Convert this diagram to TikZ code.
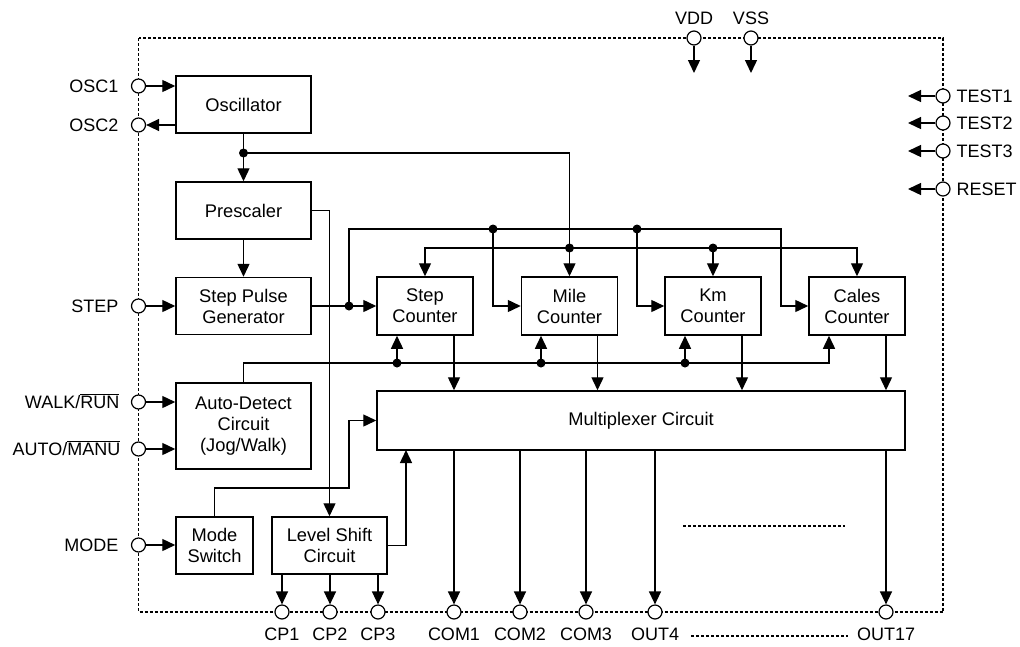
\documentclass[tikz,border=0pt]{standalone}
\usepackage{fontspec}
\setmainfont{Liberation Sans}
\usetikzlibrary{arrows.meta,calc}
\begin{document}
\begin{tikzpicture}[x=1pt,y=-1pt,
  line width=1.4pt,
  box/.style={draw, line width=1.5pt, inner sep=0pt, align=center,
    font=\fontsize{18.3}{21}\selectfont},
  pin/.style={circle, draw, fill=white, minimum size=14pt, inner sep=0pt, line width=1.2pt},
  arr/.style={-{Triangle[length=13pt,width=12pt]}},
  dot/.style={circle, fill=black, minimum size=9pt, inner sep=0pt},
  lbl/.style={inner sep=0pt, text height=12.9pt, text depth=0pt,
    font=\fontsize{18}{21}\selectfont},
  border/.style={line width=1.1pt, dash pattern=on 3pt off 2pt},
  dots/.style={line width=1.1pt, dash pattern=on 3pt off 2pt}
]
\useasboundingbox (0,0) rectangle (1020,646);

% chip outline
\coordinate (btl) at (138.5,38);
\coordinate (bbr) at (943,612);
\draw[border] (btl) rectangle (bbr);

% blocks
\node[box, minimum width=135pt, minimum height=57pt] (osc) at (243.5,104.5) {Oscillator};
\node[box, minimum width=135pt, minimum height=57pt] (pre) at (243.5,210.5) {Prescaler};
\node[box, minimum width=135pt, minimum height=57pt] (spg) at (243.5,306) {Step Pulse\\Generator};
\node[box, minimum width=135pt, minimum height=86pt] (adc) at (243.5,426) {Auto-Detect\\Circuit\\(Jog/Walk)};
\node[box, minimum width=77pt, minimum height=57pt] (mode) at (214.5,545.5) {Mode\\Switch};
\node[box, minimum width=115pt, minimum height=57pt] (lsc) at (329.5,545.5) {Level Shift\\Circuit};
\node[box, minimum width=96pt, minimum height=58pt] (stepc) at (425,306) {Step\\Counter};
\node[box, minimum width=96pt, minimum height=58pt] (milec) at (569.5,306) {Mile\\Counter};
\node[box, minimum width=96pt, minimum height=58pt] (kmc) at (713,306) {Km\\Counter};
\node[box, minimum width=96pt, minimum height=58pt] (calesc) at (857,306) {Cales\\Counter};
\node[box, minimum width=528pt, minimum height=59pt] (mux) at (641,420.5) {Multiplexer Circuit};

% pins
\node[pin] (osc1) at (138.5,86) {};
\node[pin] (osc2) at (138.5,125) {};
\node[pin] (step) at (138.5,306) {};
\node[pin] (walk) at (138.5,402) {};
\node[pin] (auto) at (138.5,449) {};
\node[pin] (modep) at (138.5,545) {};
\node[pin] (vdd) at (694,38) {};
\node[pin] (vss) at (751,38) {};
\node[pin] (test1) at (943,96) {};
\node[pin] (test2) at (943,123) {};
\node[pin] (test3) at (943,151) {};
\node[pin] (reset) at (943,189) {};
\node[pin] (cp1) at (282,612) {};
\node[pin] (cp2) at (330,612) {};
\node[pin] (cp3) at (378,612) {};
\node[pin] (com1) at (454,612) {};
\node[pin] (com2) at (520,612) {};
\node[pin] (com3) at (586,612) {};
\node[pin] (out4) at (655,612) {};
\node[pin] (out17) at (886,612) {};

% pin labels
\node[lbl, anchor=east] at (119,86) {OSC1};
\node[lbl, anchor=east] at (119,125) {OSC2};
\node[lbl, anchor=east] at (119,306) {STEP};
\node[lbl, anchor=east] at (120,402) {WALK/$\overline{\mbox{RUN}}$};
\node[lbl, anchor=east] at (121,449) {AUTO/$\overline{\mbox{MANU}}$};
\node[lbl, anchor=east] at (119,545) {MODE};
\node[lbl] at (694,18) {VDD};
\node[lbl] at (751,18) {VSS};
\node[lbl, anchor=west] at (956,96) {TEST1};
\node[lbl, anchor=west] at (956,123) {TEST2};
\node[lbl, anchor=west] at (956,151) {TEST3};
\node[lbl, anchor=west] at (956,189) {RESET};
\node[lbl] at (282,634) {CP1};
\node[lbl] at (330,634) {CP2};
\node[lbl] at (378,634) {CP3};
\node[lbl] at (454,634) {COM1};
\node[lbl] at (520,634) {COM2};
\node[lbl] at (586,634) {COM3};
\node[lbl] at (655,634) {OUT4};
\node[lbl] at (886,634) {OUT17};

% dotted ellipsis lines
\coordinate (e1a) at (683,526); \coordinate (e1b) at (845,526);
\draw[dots] (e1a) -- (e1b);
\coordinate (e2a) at (691,636); \coordinate (e2b) at (848,636);
\draw[dots] (e2a) -- (e2b);

% pin connections (left)
\draw[arr] (osc1) -- (osc1 -| osc.west);
\draw[arr] (osc2 -| osc.west) -- (osc2);
\draw[arr] (step) -- (spg.west);
\draw[arr] (walk) -- (walk -| adc.west);
\draw[arr] (auto) -- (auto -| adc.west);
\draw[arr] (modep) -- (modep -| mode.west);

% top / right pins
\coordinate (vdde) at (694,73);
\coordinate (vsse) at (751,73);
\draw[arr] (vdd) -- (vdde);
\draw[arr] (vss) -- (vsse);
\coordinate (t1e) at (908,96);
\coordinate (t2e) at (908,123);
\coordinate (t3e) at (908,151);
\coordinate (rse) at (908,189);
\draw[arr] (test1) -- (t1e);
\draw[arr] (test2) -- (t2e);
\draw[arr] (test3) -- (t3e);
\draw[arr] (reset) -- (rse);

% oscillator clock
\draw[arr] (osc.south) -- (pre.north);
\coordinate (jclk) at (243.5,153);
\draw[arr] (jclk) -| (milec.north);
\coordinate (b2m) at (569.5,248);
\draw[arr] (b2m) -| (stepc.north);
\draw[arr] (b2m) -| (calesc.north);
\coordinate (b2k) at (713,248);
\draw[arr] (b2k) -- (kmc.north);

% prescaler to step pulse and level shift
\draw[arr] (pre.south) -- (spg.north);
\draw[arr] (pre.east) -| (lsc.north);

% step pulse bus
\draw[arr] (spg.east) -- (stepc.west);
\coordinate (j1) at (349,306);
\coordinate (t1) at (493,229);
\coordinate (t2) at (637,229);
\coordinate (cb) at (781,229);
\draw[arr] (j1) |- (cb) |- (calesc.west);
\draw[arr] (t1) |- (milec.west);
\draw[arr] (t2) |- (kmc.west);

% auto-detect bus
\coordinate (lbs) at (397,363);
\coordinate (lbm) at (541,363);
\coordinate (lbk) at (685,363);
\coordinate (lbc) at (829,363);
\draw[arr] (adc.north) |- (lbc) -- (lbc |- calesc.south);
\draw[arr] (lbs) -- (lbs |- stepc.south);
\draw[arr] (lbm) -- (lbm |- milec.south);
\draw[arr] (lbk) -- (lbk |- kmc.south);

% counters to multiplexer
\draw[arr] ([xshift=29pt]stepc.south) -- ([xshift=29pt]stepc.south |- mux.north);
\draw[arr] ([xshift=28pt]milec.south) -- ([xshift=28pt]milec.south |- mux.north);
\draw[arr] ([xshift=29pt]kmc.south) -- ([xshift=29pt]kmc.south |- mux.north);
\draw[arr] ([xshift=29pt]calesc.south) -- ([xshift=29pt]calesc.south |- mux.north);

% mode switch and level shift to multiplexer
\coordinate (mb) at (349,488);
\draw[arr] (mode.north) |- (mb) |- (mux.west);
\coordinate (lsup) at (406,450);
\draw[arr] (lsc.east) -| (lsup);

% outputs
\draw[arr] (lsc.south -| cp1) -- (cp1);
\draw[arr] (lsc.south -| cp2) -- (cp2);
\draw[arr] (lsc.south -| cp3) -- (cp3);
\draw[arr] (mux.south -| com1) -- (com1);
\draw[arr] (mux.south -| com2) -- (com2);
\draw[arr] (mux.south -| com3) -- (com3);
\draw[arr] (mux.south -| out4) -- (out4);
\draw[arr] (mux.south -| out17) -- (out17);

% junction dots
\node[dot] at (jclk) {};
\node[dot] at (b2m) {};
\node[dot] at (b2k) {};
\node[dot] at (j1) {};
\node[dot] at (t1) {};
\node[dot] at (t2) {};
\node[dot] at (lbs) {};
\node[dot] at (lbm) {};
\node[dot] at (lbk) {};
\end{tikzpicture}
\end{document}
